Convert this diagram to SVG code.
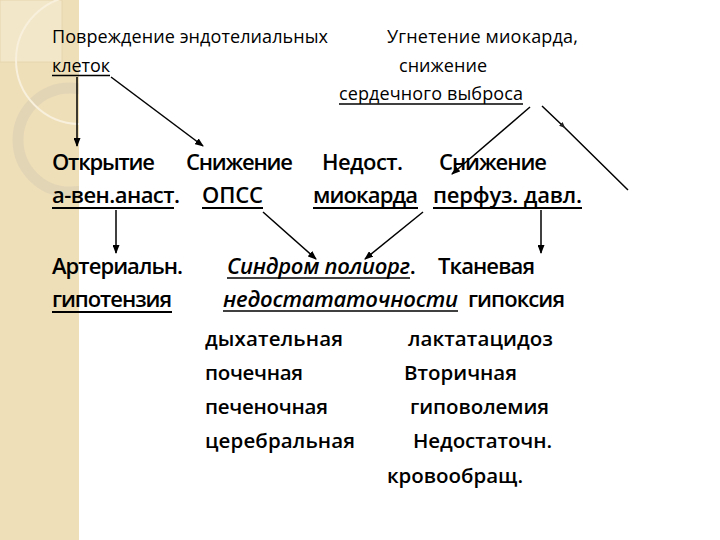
<svg xmlns="http://www.w3.org/2000/svg" width="720" height="540" viewBox="0 0 720 540">
  <defs>
    <marker id="arr" markerWidth="9" markerHeight="7" refX="8" refY="3.5" orient="auto" markerUnits="userSpaceOnUse">
      <path d="M0,0 L9,3.5 L0,7 z" fill="#000"/>
    </marker>
    <marker id="mid" markerWidth="6" markerHeight="5" refX="3" refY="2.5" orient="auto" markerUnits="userSpaceOnUse">
      <path d="M0,0 L6,2.5 L0,5 z" fill="#222"/>
    </marker>
    <clipPath id="strip"><rect x="0" y="0" width="79" height="540"/></clipPath>
  </defs>
  <style>
    text { font-family: "Open Sans", "Noto Sans", "DejaVu Sans", sans-serif; fill: #000; }
    .s { font-size: 18px; font-weight: 500; }
    .m { font-size: 22px; font-weight: 600; }
    .l { font-size: 20.5px; font-weight: 600; }
    .i { font-style: italic; }
    .ul { stroke: #000; stroke-width: 1.6; }
    .ulb { stroke: #000; stroke-width: 2.2; }
    .c { stroke: #000; stroke-width: 1.5; fill: none; }
  </style>

  <g id="background">
    <rect x="0" y="0" width="720" height="540" fill="#ffffff"/>
    <rect x="0" y="0" width="79" height="540" fill="#efdfb8"/>
    <g clip-path="url(#strip)">
      <rect x="0" y="0" width="62" height="62" fill="#f3e7c9" stroke="#e6d6ae" stroke-width="1"/>
      <circle cx="70" cy="140" r="52" fill="none" stroke="#e2d5b6" stroke-width="11"/>
      <circle cx="80" cy="60" r="64" fill="none" stroke="#f8f0dc" stroke-width="2"/>
    </g>
  </g>

  <g id="connectors">
    <line class="c" x1="77" y1="77" x2="77" y2="146" marker-end="url(#arr)"/>
    <line class="c" x1="111" y1="77" x2="203" y2="146" marker-end="url(#arr)"/>
    <line class="c" x1="116" y1="210" x2="116" y2="253" marker-end="url(#arr)"/>
    <line class="c" x1="263" y1="212" x2="316" y2="259" marker-end="url(#arr)"/>
    <line class="c" x1="423" y1="212" x2="365" y2="259" marker-end="url(#arr)"/>
    <line class="c" x1="541" y1="210" x2="541" y2="253" marker-end="url(#arr)"/>
    <line class="c" x1="530" y1="107" x2="452" y2="174" marker-end="url(#arr)"/>
    <path class="c" d="M542,106 L563,126 L628,190" marker-mid="url(#mid)"/>
  </g>

  <g id="n-endothelium">
    <text class="s" x="52" y="43" textLength="276">Повреждение эндотелиальных</text>
    <text class="s" x="52" y="72" textLength="58">клеток</text>
    <line class="ul" x1="52" y1="75.5" x2="110" y2="75.5"/>
  </g>

  <g id="n-myocardium">
    <text class="s" x="387" y="43" textLength="191">Угнетение миокарда,</text>
    <text class="s" x="399" y="72" textLength="88">снижение</text>
    <text class="s" x="339" y="100" textLength="184">сердечного выброса</text>
    <line class="ul" x1="339" y1="104" x2="523" y2="104"/>
  </g>

  <g id="n-anast">
    <text class="m" x="52" y="170" textLength="103">Открытие</text>
    <text class="m" x="52" y="203" textLength="128">а-вен.анаст.</text>
    <line class="ulb" x1="52" y1="208" x2="174" y2="208"/>
  </g>

  <g id="n-opss">
    <text class="m" x="186" y="170" textLength="107">Снижение</text>
    <text class="m" x="202" y="203" textLength="61">ОПСС</text>
    <line class="ulb" x1="202" y1="208" x2="263" y2="208"/>
  </g>

  <g id="n-nedost">
    <text class="m" x="322" y="170" textLength="81">Недост.</text>
    <text class="m" x="313" y="203" textLength="105">миокарда</text>
    <line class="ulb" x1="313" y1="208" x2="418" y2="208"/>
  </g>

  <g id="n-perfuz">
    <text class="m" x="439" y="170" textLength="108">Снижение</text>
    <text class="m" x="433" y="203" textLength="149">перфуз. давл.</text>
    <line class="ulb" x1="433" y1="208" x2="582" y2="208"/>
  </g>

  <g id="n-hypotension">
    <text class="m" x="52" y="274" textLength="131">Артериальн.</text>
    <text class="m" x="52" y="307" textLength="120">гипотензия</text>
    <line class="ulb" x1="52" y1="312" x2="172" y2="312"/>
  </g>

  <g id="n-syndrome">
    <text class="m" x="227" y="274"><tspan class="i" textLength="183">Синдром полиорг</tspan>.</text>
    <text class="m i" x="223" y="307" textLength="235">недостататочности</text>
    <line class="ul" x1="227" y1="278" x2="410" y2="278"/>
    <line class="ul" x1="223" y1="311" x2="458" y2="311"/>
    <text class="l" x="205" y="346" textLength="138">дыхательная</text>
    <text class="l" x="205" y="380" textLength="98">почечная</text>
    <text class="l" x="205" y="414" textLength="123">печеночная</text>
    <text class="l" x="205" y="448" textLength="150">церебральная</text>
  </g>

  <g id="n-hypoxia">
    <text class="m" x="438" y="274" textLength="97">Тканевая</text>
    <text class="m" x="468" y="307" textLength="97">гипоксия</text>
    <text class="l" x="408" y="346" textLength="145">лактатацидоз</text>
    <text class="l" x="404" y="380" textLength="113">Вторичная</text>
    <text class="l" x="410" y="414" textLength="139">гиповолемия</text>
    <text class="l" x="413" y="448" textLength="139">Недостаточн.</text>
    <text class="l" x="387" y="483" textLength="136">кровообращ.</text>
  </g>
</svg>
